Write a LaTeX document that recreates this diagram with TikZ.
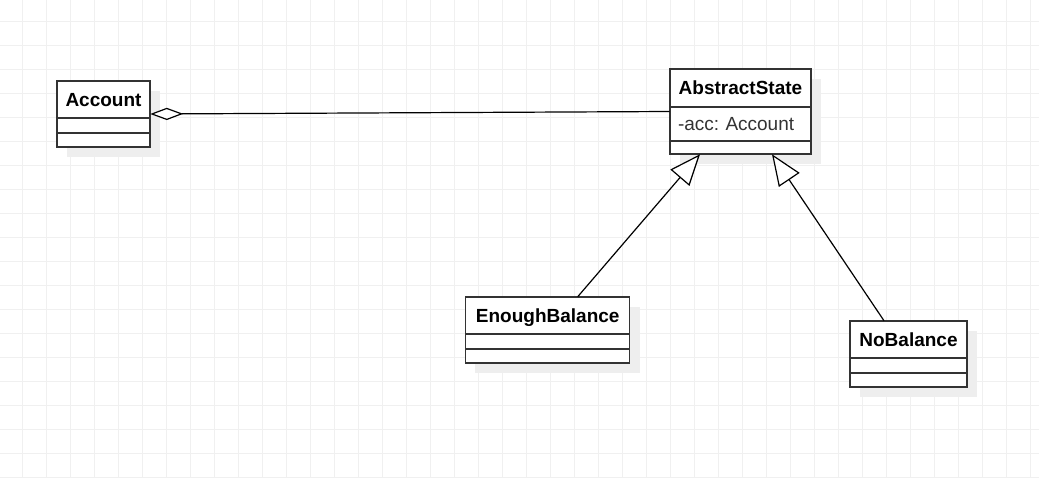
\documentclass[tikz,border=0pt]{standalone}
\usepackage{fontspec}
\setmainfont{Liberation Sans}
\frenchspacing
\usetikzlibrary{arrows.meta,positioning,calc,fit,backgrounds}
\definecolor{ugrid}{HTML}{F0F0F0}
\definecolor{ushadow}{HTML}{EEEEEE}
\definecolor{uline}{HTML}{333333}
\tikzset{
  % class compartments, 1px = 0.75pt
  umlhead/.style  = {rectangle, draw=uline, fill=white, line width=1.1pt, inner sep=0pt,
                     outer sep=0pt, font=\bfseries\fontsize{14.25}{17}\selectfont,
                     text height=10.2pt, text depth=0pt, minimum height=27.75pt},
  umlrow/.style   = {rectangle, draw=uline, fill=white, line width=1.1pt, inner sep=0pt,
                     outer sep=0pt, minimum height=#1},
  umlattr/.style  = {rectangle, draw=uline, fill=white, line width=1.1pt, inner xsep=6pt,
                     inner ysep=0pt, outer sep=0pt, align=left, text=uline, text height=10.2pt,
                     text depth=0pt, font=\fontsize{14.25}{17}\selectfont},
  classbox/.style = {inner sep=0pt, fit=#1},
  boxshadow/.style = {fill=ushadow},
  gridln/.style   = {ugrid, line width=0.75pt},
  agg/.style      = {{Diamond[fill=white, length=24.75pt, width=9.2pt]}-, line width=0.9pt},
  inh/.style      = {-{Triangle[fill=white, length=23.2pt, width=18.7pt]}, line width=0.9pt},
}
\begin{document}
\begin{tikzpicture}[x=0.75pt,y=-0.75pt]
\useasboundingbox (0,0) rectangle (1039,478);
\begin{scope}[on background layer]
\fill[white] (0,0) rectangle (1039,478);
\foreach \gx in {0,...,42}
  {\draw[gridln] (22.7+24*\gx,0) -- (22.7+24*\gx,478);}
\foreach \gy in {0,...,19}
  {\draw[gridln] (0,21.7+24*\gy) -- (1039,21.7+24*\gy);}
\end{scope}
% classes
\node[umlhead, minimum width=69.75pt, anchor=north west] (acc) at (57,81) {Account};
\node[umlrow=11.25pt, minimum width=69.75pt, below=0pt of acc] (accAttr) {};
\node[umlrow=10.5pt, minimum width=69.75pt, below=0pt of accAttr] (accOps) {};
\node[classbox=(acc)(accOps)] (accBox) {};

\node[umlhead, minimum width=105.75pt, minimum height=28.5pt, anchor=north west] (abs) at (670,69) {AbstractState};
\node[umlattr, text width=93.75pt, minimum height=25.5pt, below=0pt of abs] (absAttr) {-acc: Account};
\node[umlrow=9.75pt, minimum width=105.75pt, below=0pt of absAttr] (absOps) {};
\node[classbox=(abs)(absOps)] (absBox) {};

\node[umlhead, minimum width=123pt, anchor=north west] (en) at (465.7,297) {EnoughBalance};
\node[umlrow=11.25pt, minimum width=123pt, below=0pt of en] (enAttr) {};
\node[umlrow=10.5pt, minimum width=123pt, below=0pt of enAttr] (enOps) {};
\node[classbox=(en)(enOps)] (enBox) {};

\node[umlhead, minimum width=87.75pt, anchor=north west] (no) at (850,321) {NoBalance};
\node[umlrow=11.25pt, minimum width=87.75pt, below=0pt of no] (noAttr) {};
\node[umlrow=10.5pt, minimum width=87.75pt, below=0pt of noAttr] (noOps) {};
\node[classbox=(no)(noOps)] (noBox) {};
% shadows
\begin{scope}[on background layer]
\foreach \b in {accBox,absBox,enBox,noBox}
  {\fill[boxshadow] ($(\b.north west)+(10,10)$) rectangle ($(\b.south east)+(10,10)$);}
\end{scope}
% relations
\draw[agg] (accBox.east) -- (absBox.west);
\draw[inh] ($(enBox.north)+(30,0)$) -- ($(absBox.south)+(-40.5,0)$);
\draw[inh] ($(noBox.north)+(-24.5,0)$) -- ($(absBox.south)+(31.5,0)$);
\end{tikzpicture}
\end{document}
